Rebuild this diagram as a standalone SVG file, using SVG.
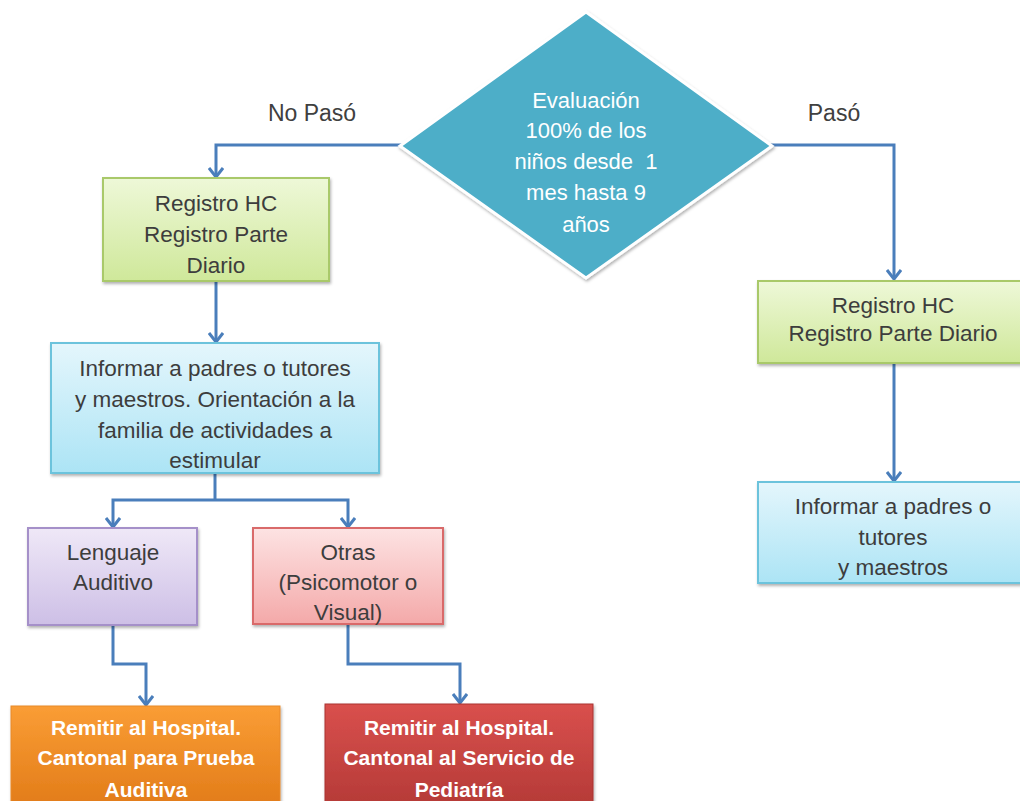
<svg xmlns="http://www.w3.org/2000/svg" width="1020" height="801" viewBox="0 0 1020 801">
<defs>
<linearGradient id="gGreen" x1="0" y1="0" x2="0" y2="1"><stop offset="0" stop-color="#eef8d8"/><stop offset="1" stop-color="#cfe89a"/></linearGradient>
<linearGradient id="gBlue" x1="0" y1="0" x2="0" y2="1"><stop offset="0" stop-color="#e4f6fc"/><stop offset="1" stop-color="#ace4f5"/></linearGradient>
<linearGradient id="gPurple" x1="0" y1="0" x2="0" y2="1"><stop offset="0" stop-color="#efe8f7"/><stop offset="1" stop-color="#cdbfe6"/></linearGradient>
<linearGradient id="gPink" x1="0" y1="0" x2="0" y2="1"><stop offset="0" stop-color="#fde3e3"/><stop offset="1" stop-color="#f4a9a9"/></linearGradient>
<linearGradient id="gOrange" x1="0" y1="0" x2="0" y2="1"><stop offset="0" stop-color="#fa9d35"/><stop offset="1" stop-color="#e27c19"/></linearGradient>
<linearGradient id="gRed" x1="0" y1="0" x2="0" y2="1"><stop offset="0" stop-color="#d9504d"/><stop offset="1" stop-color="#b53a37"/></linearGradient>
<filter id="sh" x="-10%" y="-10%" width="120%" height="130%"><feDropShadow dx="1" dy="2" stdDeviation="1.5" flood-color="#000" flood-opacity="0.3"/></filter>
<marker id="arr" markerUnits="userSpaceOnUse" markerWidth="16" markerHeight="16" viewBox="0 0 16 16" refX="14" refY="8" orient="auto">
<path d="M5,1 L14,8 L5,15" fill="none" stroke="#4a7ebb" stroke-width="3" stroke-linejoin="miter"/>
</marker>
<style>
.c{fill:none;stroke:#4a7ebb;stroke-width:3;marker-end:url(#arr)}
.t{font-family:"Liberation Sans",Arial,sans-serif;font-size:22.5px;fill:#3d3d3d;text-anchor:middle}
.w{font-family:"Liberation Sans",Arial,sans-serif;font-size:22px;fill:#ffffff;text-anchor:middle}
.b{font-weight:bold;font-size:21px}
.lbl{font-family:"Liberation Sans",Arial,sans-serif;font-size:23px;fill:#404040;text-anchor:middle}
</style>
</defs>
<rect width="1020" height="801" fill="#ffffff"/>
<g id="connectors">
<polyline class="c" points="402,145 216,145 216,177"/>
<polyline class="c" points="770,145 894,145 894,279"/>
<polyline class="c" points="216,281 216,342"/>
<polyline class="c" points="894,363 894,481"/>
<polyline fill="none" stroke="#4a7ebb" stroke-width="3" points="215,473 215,500"/>
<polyline class="c" points="215,500 113,500 113,527"/>
<polyline class="c" points="215,500 348,500 348,527"/>
<polyline class="c" points="113,625 113,664 146,664 146,705"/>
<polyline class="c" points="348,624 348,664 460,664 460,703"/>
</g>
<g id="label-nopaso"><text class="lbl" x="312" y="121">No Pasó</text></g>
<g id="label-paso"><text class="lbl" x="834" y="121">Pasó</text></g>
<g id="evaluacion">
<polygon points="586,12 772,146 586,278 400,146" fill="#4eaec8" stroke="#ffffff" stroke-width="3" filter="url(#sh)"/>
<text class="w" x="586" y="108">Evaluación</text>
<text class="w" x="586" y="138">100% de los</text>
<text class="w" x="586" y="169" xml:space="preserve">niños desde  1</text>
<text class="w" x="586" y="200">mes hasta 9</text>
<text class="w" x="586" y="232">años</text>
</g>
<g id="registro-izq">
<rect x="103" y="178" width="226" height="103" fill="url(#gGreen)" stroke="#a9c96a" stroke-width="2" filter="url(#sh)"/>
<text class="t" x="216" y="211">Registro HC</text>
<text class="t" x="216" y="242">Registro Parte</text>
<text class="t" x="216" y="273">Diario</text>
</g>
<g id="informar-izq">
<rect x="51" y="343" width="328" height="130" fill="url(#gBlue)" stroke="#6cc3dc" stroke-width="2" filter="url(#sh)"/>
<text class="t" x="215" y="376">Informar a padres o tutores</text>
<text class="t" x="215" y="407">y maestros. Orientación a la</text>
<text class="t" x="215" y="438">familia de actividades a</text>
<text class="t" x="215" y="468">estimular</text>
</g>
<g id="lenguaje">
<rect x="28" y="528" width="169" height="97" fill="url(#gPurple)" stroke="#a590c9" stroke-width="2" filter="url(#sh)"/>
<text class="t" x="113" y="560">Lenguaje</text>
<text class="t" x="113" y="590">Auditivo</text>
</g>
<g id="otras">
<rect x="253" y="528" width="190" height="96" fill="url(#gPink)" stroke="#d96a6a" stroke-width="2" filter="url(#sh)"/>
<text class="t" x="348" y="560">Otras</text>
<text class="t" x="348" y="590">(Psicomotor o</text>
<text class="t" x="348" y="620">Visual)</text>
</g>
<g id="remitir-auditiva">
<rect x="11" y="706" width="269" height="100" fill="url(#gOrange)" stroke="#e8892b" stroke-width="1" filter="url(#sh)"/>
<text class="w b" x="146" y="735">Remitir al Hospital.</text>
<text class="w b" x="146" y="765">Cantonal para Prueba</text>
<text class="w b" x="146" y="797">Auditiva</text>
</g>
<g id="remitir-pediatria">
<rect x="325" y="704" width="268" height="102" fill="url(#gRed)" stroke="#a93431" stroke-width="1" filter="url(#sh)"/>
<text class="w b" x="459" y="735">Remitir al Hospital.</text>
<text class="w b" x="459" y="765">Cantonal al Servicio de</text>
<text class="w b" x="459" y="797">Pediatría</text>
</g>
<g id="registro-der">
<rect x="758" y="281" width="272" height="82" fill="url(#gGreen)" stroke="#a9c96a" stroke-width="2" filter="url(#sh)"/>
<text class="t" x="893" y="313">Registro HC</text>
<text class="t" x="893" y="341">Registro Parte Diario</text>
</g>
<g id="informar-der">
<rect x="758" y="482" width="272" height="101" fill="url(#gBlue)" stroke="#6cc3dc" stroke-width="2" filter="url(#sh)"/>
<text class="t" x="893" y="514">Informar a padres o</text>
<text class="t" x="893" y="545">tutores</text>
<text class="t" x="893" y="575">y maestros</text>
</g>
</svg>
